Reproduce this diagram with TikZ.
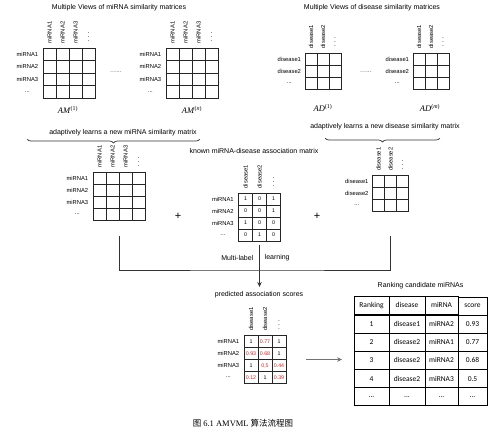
\documentclass[tikz,border=0pt]{standalone}
\usepackage{fontspec}
\setmainfont{Liberation Sans}
\newfontfamily\tabfont{Carlito}
\newfontfamily\capfont{Liberation Serif}
\newfontfamily\cjk{Noto Sans CJK SC}
\usetikzlibrary{matrix,positioning,arrows.meta,decorations.pathreplacing}
\definecolor{scorered}{RGB}{200,40,40}
\newcommand\rowdots{...}
\tikzset{
  cell/.style={draw=black!85, line width=0.9pt, inner sep=0pt, minimum width=13pt, minimum height=12.5pt, font=\fontsize{5.3}{6}\selectfont},
  grid/.style={matrix of nodes, nodes in empty cells, row sep=-0.9pt, column sep=-0.9pt, nodes={cell}},
  rowlab/.style={inner sep=1pt, text width=26pt, align=center, font=\fontsize{5.8}{7}\selectfont},
  collab/.style={rotate=90, anchor=west, inner sep=1pt, font=\fontsize{5.8}{7}\selectfont},
  vdots/.style={inner sep=0pt, font=\fontsize{6.5}{7}\selectfont},
  title/.style={inner sep=1pt, font=\fontsize{7}{8.5}\selectfont},
  hot/.style={text=scorered},
  view/.style={inner sep=1pt, font=\capfont\fontsize{8.5}{9}\selectfont},
  link/.style={draw=black!80, line width=0.8pt},
  flow/.style={link, -{Stealth[length=5pt,width=4.5pt]}},
  tab/.style={draw=black, line width=0.8pt, inner sep=0pt, minimum height=18pt, font=\tabfont\fontsize{7.5}{9}\selectfont},
  lbrace/.style={draw=black!80, line width=0.7pt, decorate, decoration={brace, mirror, amplitude=4pt}}
}

\begin{document}
\begin{tikzpicture}[x=1pt, y=-1pt]
  \useasboundingbox (0,0) rectangle (499,432);

  % miRNA views
  \node[title] (amtitle) at (119,8) {Multiple Views of miRNA similarity matrices};
  \matrix (am1) [grid] at (69,73) {
    & & & \\ & & & \\ & & & \\ & & & \\
  };
  \matrix (amn) [grid] at (192,73) {
    & & & \\ & & & \\ & & & \\ & & & \\
  };
  \foreach \m in {am1,amn} {
    \foreach \r/\t in {1/miRNA1,2/miRNA2,3/miRNA3,4/\rowdots}
      \node[rowlab, left=1pt of \m-\r-1] (\m-r\r) {\t};
    \foreach \c in {1,2,3}
      \node[collab] (\m-c\c) at ([yshift=3pt]\m-1-\c.north) {miRNA\c};
    \node[vdots] (\m-cd) at ([yshift=13pt]\m-1-4.north) {$\vdots$};
  }
  \node[title, text=black!60] (amgap) at (116,72) {......};
  \node[view] (am1lab) at (68,110) {\textit{AM}\textsuperscript{(1)}};
  \node[view] (amnlab) at (192,110) {\textit{AM}\textsuperscript{(\textit{n})}};
  \node[title] (amadapt) at (123,133) {adaptively learns a new miRNA similarity matrix};
  \draw[lbrace] (27,139) -- (200,139);

  % disease views
  \node[title] (adtitle) at (372,8) {Multiple Views of disease similarity matrices};
  \matrix (ad1) [grid, nodes={minimum width=12pt, minimum height=12pt}] at (323,71) {
    & & \\ & & \\ & & \\
  };
  \matrix (adn) [grid, nodes={minimum width=12pt, minimum height=12pt}] at (431,71) {
    & & \\ & & \\ & & \\
  };
  \foreach \m in {ad1,adn} {
    \foreach \r/\t in {1/disease1,2/disease2,3/\rowdots}
      \node[rowlab, left=1pt of \m-\r-1] (\m-r\r) {\t};
    \foreach \c in {1,2}
      \node[collab] (\m-c\c) at ([yshift=3pt]\m-1-\c.north) {disease\c};
    \node[vdots] (\m-cd) at ([yshift=13pt]\m-1-3.north) {$\vdots$};
  }
  \node[title, text=black!60] (adgap) at (366,72) {......};
  \node[view] (ad1lab) at (323,108) {\textit{AD}\textsuperscript{(1)}};
  \node[view] (adnlab) at (430,108) {\textit{AD}\textsuperscript{(\textit{m})}};
  \node[title] (adadapt) at (385,127) {adaptively learns a new disease similarity matrix};
  \draw[lbrace] (325,138) -- (440,138);

  % learned matrices and known associations
  \matrix (amnew) [grid, nodes={minimum height=12pt}] at (119,196) {
    & & & \\ & & & \\ & & & \\ & & & \\
  };
  \foreach \r/\t in {1/miRNA1,2/miRNA2,3/miRNA3,4/\rowdots}
    \node[rowlab, left=1pt of amnew-\r-1] (amnew-r\r) {\t};
  \foreach \c in {1,2,3}
    \node[collab] (amnew-c\c) at ([yshift=3pt]amnew-1-\c.north) {miRNA\c};
  \node[vdots] (amnew-cd) at ([yshift=12pt]amnew-1-4.north) {$\vdots$};

  \node[font=\fontsize{11}{11}\selectfont] (plus1) at (178,216) {+};

  \node[title] (knowntitle) at (254,151) {known miRNA-disease association matrix};
  \matrix (known) [grid, nodes={minimum width=14pt, minimum height=12pt}] at (259.5,217) {
    1 & 0 & 1 \\
    0 & 0 & 1 \\
    1 & 0 & 0 \\
    0 & 1 & 0 \\
  };
  \foreach \r/\t in {1/miRNA1,2/miRNA2,3/miRNA3,4/\rowdots}
    \node[rowlab, left=1pt of known-\r-1] (known-r\r) {\t};
  \foreach \c in {1,2}
    \node[collab] (known-c\c) at ([yshift=3pt]known-1-\c.north) {disease\c};
  \node[vdots] (known-cd) at ([yshift=13pt]known-1-3.north) {$\vdots$};

  \node[font=\fontsize{11}{11}\selectfont] (plus2) at (317,216) {+};

  \matrix (adnew) [grid, nodes={minimum width=12pt, minimum height=12pt}] at (390.5,193.5) {
    & & \\ & & \\ & & \\
  };
  \foreach \r/\t in {1/disease1,2/disease2,3/\rowdots}
    \node[rowlab, left=1pt of adnew-\r-1] (adnew-r\r) {\t};
  \foreach \c in {1,2}
    \node[collab] (adnew-c\c) at ([yshift=3pt]adnew-1-\c.north) {disease\c};
  \node[vdots] (adnew-cd) at ([yshift=13pt]adnew-1-3.north) {$\vdots$};

  % multi-label learning
  \coordinate (amfoot) at ([yshift=-12pt]amnew.south);
  \coordinate (adfoot) at ([yshift=-21pt]adnew.south);
  \coordinate (bar) at ([yshift=-25pt]known.south);
  \coordinate (tip) at ([yshift=-42pt]known.south);
  \draw[link] (amfoot) |- (bar) -| (adfoot);
  \draw[flow] (known.south) -- (tip);
  \node[title, anchor=east] (mlleft) at ([xshift=-5pt,yshift=-13pt]known.south) {Multi-label};
  \node[title, anchor=west] (mlright) at ([xshift=4pt,yshift=-13pt]known.south) {learning};

  % predicted scores
  \node[title] (predtitle) at (259,295) {predicted association scores};
  \matrix (pred) [grid, nodes={minimum width=14pt, minimum height=12pt}] at (265,359.5) {
    1 & |[hot]| 0.77 & 1 \\
    |[hot]| 0.93 & |[hot]| 0.68 & 1 \\
    1 & |[hot]| 0,5 & |[hot]| 0.44 \\
    |[hot]| 0.12 & 1 & |[hot]| 0.39 \\
  };
  \foreach \r/\t in {1/miRNA1,2/miRNA2,3/miRNA3,4/\rowdots}
    \node[rowlab, left=1pt of pred-\r-1] (pred-r\r) {\t};
  \foreach \c in {1,2}
    \node[collab] (pred-c\c) at ([yshift=3pt]pred-1-\c.north) {disease\c};
  \node[vdots] (pred-cd) at ([yshift=13pt]pred-1-3.north) {$\vdots$};

  % ranking
  \matrix (rank) [matrix of nodes, row sep=-0.8pt, column sep=-0.8pt, nodes={tab},
    column 1/.style={nodes={minimum width=35pt}},
    column 2/.style={nodes={minimum width=36pt}},
    column 3/.style={nodes={minimum width=33pt}},
    column 4/.style={nodes={minimum width=29pt}}] at (420.5,351) {
    Ranking & disease & miRNA & score \\
    1 & disease1 & miRNA2 & 0.93 \\
    2 & disease2 & miRNA1 & 0.77 \\
    3 & disease2 & miRNA2 & 0.68 \\
    4 & disease2 & miRNA3 & 0.5 \\
    \rowdots & \rowdots & \rowdots & \rowdots \\
  };
  \node[title, above=2pt of rank] (ranktitle) {Ranking candidate miRNAs};
  \draw[flow, draw=black!55] ([xshift=16pt]pred.east) -- ([xshift=-8pt]pred.east -| rank.west);

  \node[font=\fontsize{8.5}{9}\selectfont] (caption) at (243,423) {\cjk 图 {\capfont 6.1 AMVML} 算法流程图};
\end{tikzpicture}
\end{document}
